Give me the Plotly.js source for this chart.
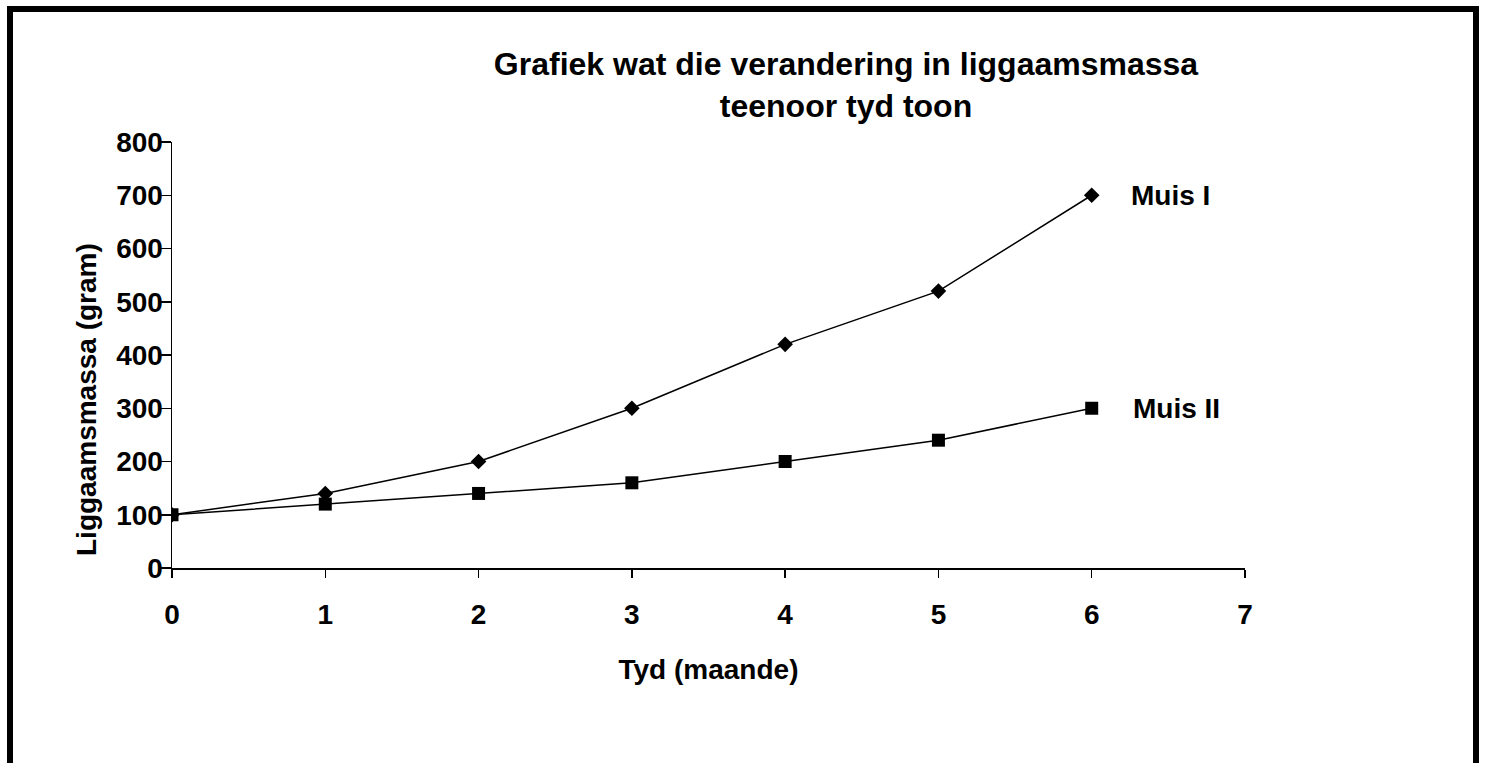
<!DOCTYPE html>
<html>
<head>
<meta charset="utf-8">
<script src="https://cdn.plot.ly/plotly-3.0.1.min.js"></script>
<style>
html,body{margin:0;padding:0;background:#fff;}
#chart{width:1485px;height:763px;}
</style>
</head>
<body>
<div id="chart"></div>
<script>
var months = [0, 1, 2, 3, 4, 5, 6];
var muis1 = [100, 140, 200, 300, 420, 520, 700];
var muis2 = [100, 120, 140, 160, 200, 240, 300];
var seriesNames = ["Muis I", "Muis II"];
var titleText = "Grafiek wat die verandering in liggaamsmassa<br>teenoor tyd toon";
var xTitle = "Tyd (maande)";
var yTitle = "Liggaamsmassa (gram)";
var xTicks = [0, 1, 2, 3, 4, 5, 6, 7];
var yTicks = [0, 100, 200, 300, 400, 500, 600, 700, 800];

var F = "Liberation Sans, Arial, Helvetica, sans-serif";

var traces = [
  {x: months, y: muis1, name: seriesNames[0], mode: "lines+markers",
   line: {color: "#000", width: 1.5},
   marker: {symbol: "diamond", size: 12, color: "#000"}},
  {x: months, y: muis2, name: seriesNames[1], mode: "lines+markers",
   line: {color: "#000", width: 1.5},
   marker: {symbol: "square", size: 13, color: "#000"}}
];

var L = 172, R = 240, T = 142, B = 195;
var W = 1485 - L - R, H = 763 - T - B;
function px2paperX(px){ return (px - L) / W; }
function px2paperY(py){ return (763 - B - py) / H; }

var layout = {
  width: 1485, height: 763,
  margin: {l: L, r: R, t: T, b: B, pad: 0},
  paper_bgcolor: "#fff", plot_bgcolor: "#fff",
  showlegend: false,
  font: {family: F, size: 28, color: "#000", weight: "bold"},
  title: {text: titleText, font: {family: F, size: 32, color: "#000", weight: "bold"},
    xref: "paper", x: px2paperX(846), xanchor: "center",
    yref: "container", y: 1 - 75/763, yanchor: "middle"},
  xaxis: {range: [0, 7], tickvals: xTicks, ticks: "outside", ticklen: 8, tickwidth: 1.5,
    tickcolor: "#000", showline: true, linecolor: "#000", linewidth: 1.5,
    showgrid: false, zeroline: false, ticklabelstandoff: 13,
    tickfont: {family: F, size: 28, color: "#000", weight: "bold"},
    title: {text: xTitle, font: {family: F, size: 28, color: "#000", weight: "bold"}, standoff: 30}},
  yaxis: {range: [0, 800], tickvals: yTicks, ticks: "outside", ticklen: 10, tickwidth: 1.5,
    tickcolor: "#000", showline: true, linecolor: "#000", linewidth: 1.5,
    showgrid: false, zeroline: false, ticklabelstandoff: -8,
    tickfont: {family: F, size: 28, color: "#000", weight: "bold"}},
  annotations: [
    {xref: "paper", yref: "paper", x: px2paperX(86), y: px2paperY(400), text: yTitle,
     textangle: -90, showarrow: false, xanchor: "center", yanchor: "middle",
     font: {family: F, size: 28, color: "#000", weight: "bold"}},
    {xref: "x", yref: "y", x: 6.243, y: muis1[6], text: seriesNames[0], showarrow: false,
     xanchor: "left", yanchor: "middle", font: {family: F, size: 28, color: "#000", weight: "bold"}},
    {xref: "x", yref: "y", x: 6.256, y: muis2[6], text: seriesNames[1], showarrow: false,
     xanchor: "left", yanchor: "middle", font: {family: F, size: 28, color: "#000", weight: "bold"}}
  ],
  shapes: [
    {type: "rect", xref: "paper", yref: "paper",
     x0: px2paperX(10), x1: px2paperX(1476), y0: px2paperY(800), y1: px2paperY(9),
     line: {color: "#000", width: 6}, fillcolor: "rgba(0,0,0,0)", layer: "below"}
  ]
};

Plotly.newPlot("chart", traces, layout, {staticPlot: true, displayModeBar: false});
</script>
</body>
</html>
